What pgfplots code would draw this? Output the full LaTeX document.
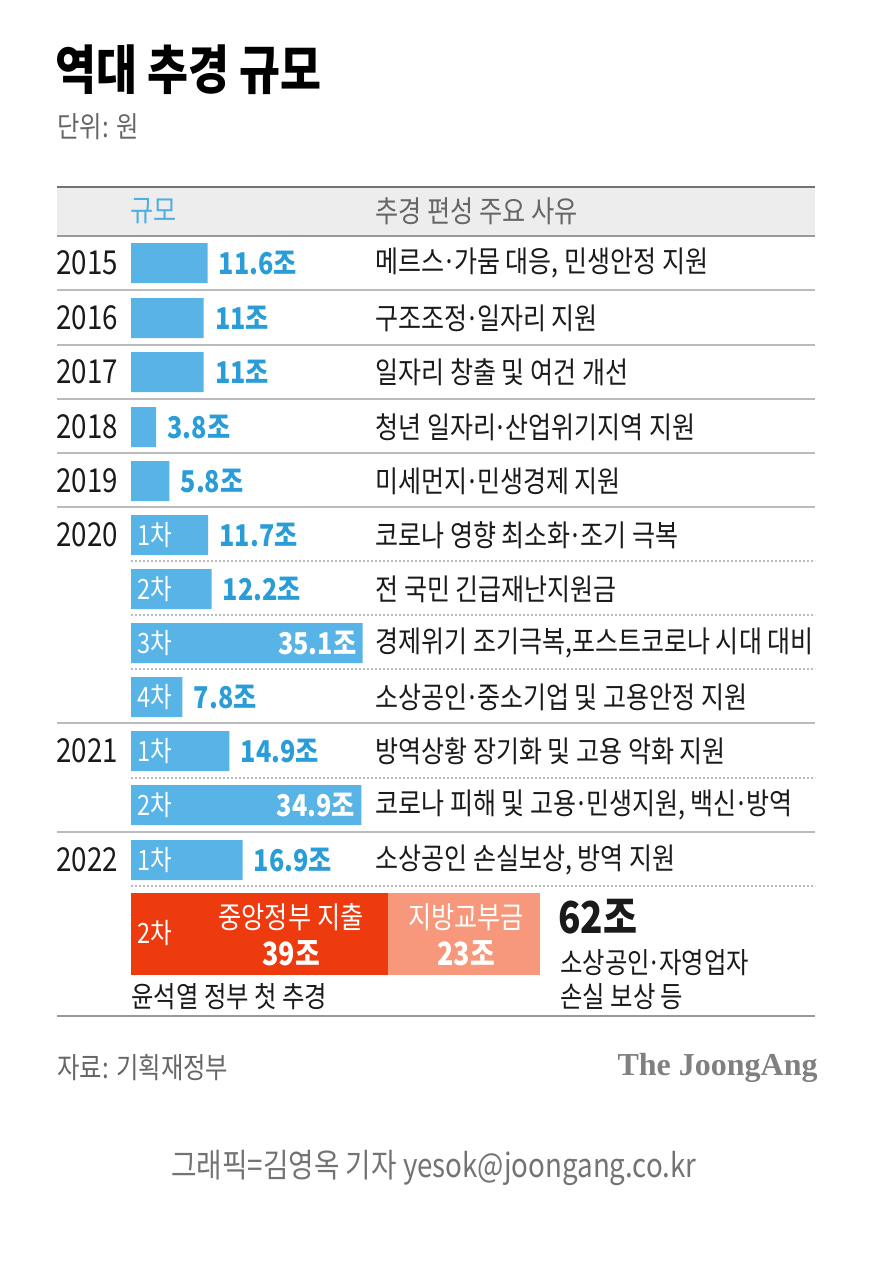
\documentclass[border=0pt]{standalone}
\usepackage{fontspec}
\usepackage{pgfplots}
\pgfplotsset{compat=1.18}
\setmainfont{Noto Sans CJK KR}[FakeStretch=0.84]
\newfontfamily\serif{Liberation Serif}
\definecolor{barblue}{HTML}{58B3E6}
\definecolor{valblue}{HTML}{2A9DD8}
\definecolor{hdrblue}{HTML}{4EAEE0}
\definecolor{hdrbg}{HTML}{EDEDED}
\definecolor{txtgray}{HTML}{666666}
\definecolor{rulegray}{HTML}{BBBBBB}
\definecolor{redbar}{HTML}{EE3A0F}
\definecolor{salmon}{HTML}{F7987C}
\definecolor{ink}{HTML}{1A1A1A}
\newcommand{\fsz}[1]{\fontsize{#1}{#1}\selectfont}
\newcommand{\md}{\hbox to 0.32em{\hss·\hss}}
\begin{document}
\begin{tikzpicture}[x=0.5pt,y=-0.5pt,
  yr/.style={anchor=west,inner sep=0pt,font=\fsz{16.5pt},text=ink},
  rs/.style={anchor=west,inner sep=0pt,font=\fsz{14.9pt},text=ink},
  rl/.style={anchor=west,inner sep=0pt,font=\fsz{14.5pt},text=ink},
  vl/.style={anchor=west,inner sep=0pt,xshift=5.5pt,font=\fsz{15pt}\bfseries,text=valblue},
  vi/.style={anchor=east,inner sep=0pt,xshift=-3pt,font=\fsz{15pt}\bfseries,text=white},
  ch/.style={anchor=west,inner sep=0pt,font=\fsz{14pt},text=white}]
\path[use as bounding box] (0,0) rectangle (868,1280);
% header band and rules
\fill[hdrbg] (57,187) rectangle (815,236);
\draw[color=black!55,line width=1.2pt] (57,187) -- (815,187);
\draw[color=black!40,line width=0.6pt] (57,236) -- (815,236);
\foreach \yy in {290,345,399,453,507,723,832}{\draw[rulegray,line width=0.6pt] (57,\yy) -- (815,\yy);}
\draw[color=black!40,line width=1pt] (57,1016) -- (815,1016);
\foreach \yy in {561,615,669,778,886}{\draw[rulegray,line width=0.7pt,dash pattern=on 0.8pt off 1.2pt] (131,\yy) -- (815,\yy);}
\begin{axis}[at={(0,0)},anchor=north west,scale only axis,width=434pt,height=640pt,
  hide axis,xmin=-19.848,xmax=111.667,ymin=0,ymax=1280,y dir=reverse,clip=false]
\addplot[xbar,fill=barblue,draw=none,bar width=40] coordinates {
 (11.6,263) (11,318) (11,372) (3.8,427) (5.8,481)
 (11.7,535) (12.2,589) (35.1,643) (7.8,697)
 (14.9,751) (34.9,805) (16.9,860)};
\addplot[xbar,fill=salmon,draw=none,bar width=82] coordinates {(62,934)};
\addplot[xbar,fill=redbar,draw=none,bar width=82] coordinates {(39,934)};
\node[vl] at (axis cs:11.6,263) {11.6조};
\node[vl] at (axis cs:11,318) {11조};
\node[vl] at (axis cs:11,372) {11조};
\node[vl] at (axis cs:3.8,427) {3.8조};
\node[vl] at (axis cs:5.8,481) {5.8조};
\node[vl] at (axis cs:11.7,535) {11.7조};
\node[vl] at (axis cs:12.2,589) {12.2조};
\node[vi] at (axis cs:35.1,643) {35.1조};
\node[vl] at (axis cs:7.8,697) {7.8조};
\node[vl] at (axis cs:14.9,751) {14.9조};
\node[vi] at (axis cs:34.9,805) {34.9조};
\node[vl] at (axis cs:16.9,860) {16.9조};
\end{axis}
% title
\node[anchor=west,inner sep=0pt,font=\fsz{26.5pt}\bfseries] at (55,70) {역대 추경 규모};
\node[anchor=west,inner sep=0pt,font=\fsz{14.5pt},text=txtgray] at (57,127) {단위: 원};
% header
\node[anchor=west,inner sep=0pt,font=\fsz{15pt},text=hdrblue] at (130,211) {규모};
\node[anchor=west,inner sep=0pt,font=\fsz{15pt},text=txtgray] at (375,211) {추경 편성 주요 사유};
% years
\node[yr] at (56,263) {2015};
\node[yr] at (56,318) {2016};
\node[yr] at (56,372) {2017};
\node[yr] at (56,427) {2018};
\node[yr] at (56,481) {2019};
\node[yr] at (56,535) {2020};
\node[yr] at (56,751) {2021};
\node[yr] at (56,860) {2022};
% in-bar labels
\node[ch] at (137,535) {1차};
\node[ch] at (137,589) {2차};
\node[ch] at (137,643) {3차};
\node[ch] at (137,697) {4차};
\node[ch] at (137,751) {1차};
\node[ch] at (137,805) {2차};
\node[ch] at (137,860) {1차};
% reasons
\node[rs] at (375,263) {메르스\md 가뭄 대응, 민생안정 지원};
\node[rs] at (375,318) {구조조정\md 일자리 지원};
\node[rs] at (375,372) {일자리 창출 및 여건 개선};
\node[rs] at (375,427) {청년 일자리\md 산업위기지역 지원};
\node[rs] at (375,481) {미세먼지\md 민생경제 지원};
\node[rs] at (375,535) {코로나 영향 최소화\md 조기 극복};
\node[rs] at (375,589) {전 국민 긴급재난지원금};
\node[rs] at (375,643) {경제위기 조기극복,포스트코로나 시대 대비};
\node[rs] at (375,697) {소상공인\md 중소기업 및 고용안정 지원};
\node[rs] at (375,751) {방역상황 장기화 및 고용 악화 지원};
\node[rs] at (375,805) {코로나 피해 및 고용\md 민생지원, 백신\md 방역};
\node[rs] at (375,860) {소상공인 손실보상, 방역 지원};
% 2022 2nd
\node[ch] at (137,933) {2차};
\node[inner sep=0pt,font=\fsz{15pt},text=white] at (291,917) {중앙정부 지출};
\node[inner sep=0pt,font=\fsz{16pt}\bfseries,text=white] at (291,953) {39조};
\node[inner sep=0pt,font=\fsz{15pt},text=white] at (466,917) {지방교부금};
\node[inner sep=0pt,font=\fsz{16pt}\bfseries,text=white] at (466,953) {23조};
\node[anchor=west,inner sep=0pt,font=\fsz{22pt}\bfseries,text=ink] at (558,917) {62조};
\node[rl] at (560,963) {소상공인\md 자영업자};
\node[rl] at (560,997) {손실 보상 등};
\node[rl] at (131,997) {윤석열 정부 첫 추경};
% footer
\node[anchor=west,inner sep=0pt,font=\fsz{14.5pt},text=txtgray] at (57,1068) {자료: 기획재정부};
\node[anchor=east,inner sep=0pt,font=\serif\bfseries\fsz{16pt},text=black!50] at (818,1068) {The JoongAng};
\node[inner sep=0pt,font=\fsz{16.5pt},text=black!55] at (434,1168) {그래픽=김영옥 기자 yesok@joongang.co.kr};
\end{tikzpicture}
\end{document}
